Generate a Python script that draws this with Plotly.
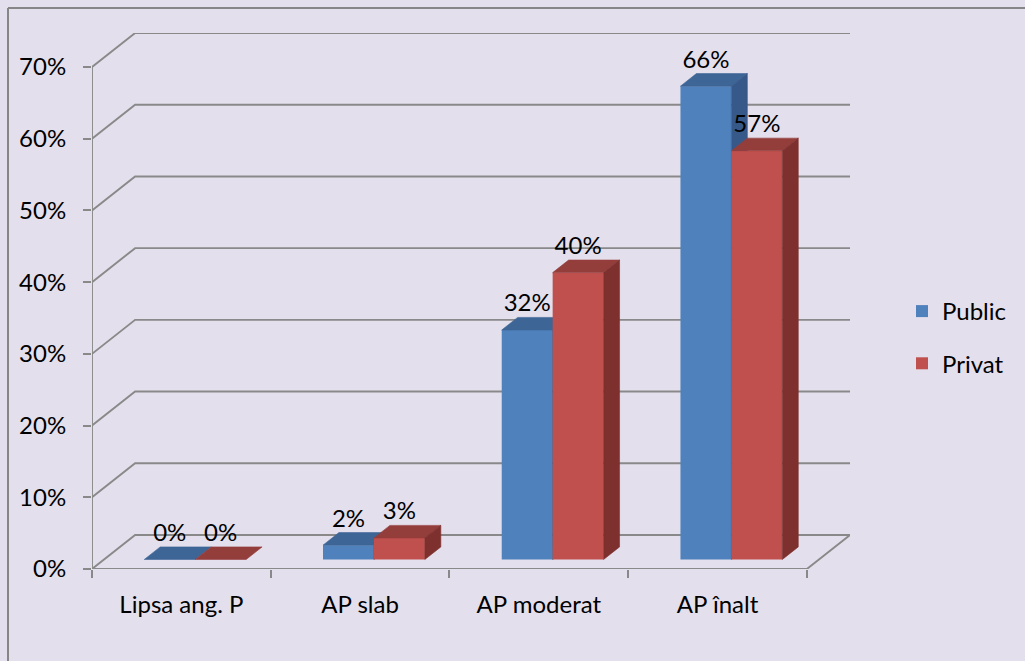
import plotly.graph_objects as go

# ---- data ----
categories = ["Lipsa ang. P", "AP slab", "AP moderat", "AP înalt"]
public = [0, 2, 32, 66]
privat = [0, 3, 40, 57]
series_names = ["Public", "Privat"]
y_ticks = [0, 10, 20, 30, 40, 50, 60, 70]
y_tick_labels = ["0%", "10%", "20%", "30%", "40%", "50%", "60%", "70%"]

# ---- styling ----
FRONT = ["#4F81BD", "#C0504D"]
TOP = ["#3D6596", "#943E3C"]
SIDE = ["#36598A", "#7D302E"]
GRID = "#898989"
BG = "#E4DFEC"
FONT = "Lato"
FS = 24
LW = 1.9

# ---- oblique 3-D frame geometry (axis units) ----
W, H = 1025, 661
M_L, M_R, M_T, M_B = 92, 175, 33, 92
N = len(categories)
DEPTH_X = 0.2412          # wall depth along x, in category units
DEPTH_Y = 4.742           # wall depth along y, in percent units
X_MAX = N + DEPTH_X
Y_MAX = y_ticks[-1] + DEPTH_Y

BAR_OFFSET = 0.225        # left edge of the first bar inside its category slot
BAR_W = 0.285             # bar width (category units)
F0, F1 = 0.28, 0.65       # front / back of the bars as a fraction of the floor depth
B0 = F0 * DEPTH_Y
DDX = (F1 - F0) * DEPTH_X
DDY = (F1 - F0) * DEPTH_Y

fig = go.Figure()

# walls, floor and the vertical axis line (base subplot)
for v in y_ticks:
    if v == 0:
        xs = [0, N, N + DEPTH_X, DEPTH_X, 0]
        ys = [0, 0, DEPTH_Y, DEPTH_Y, 0]
    else:
        xs = [0, DEPTH_X, N + DEPTH_X]
        ys = [v, v + DEPTH_Y, v + DEPTH_Y]
    fig.add_trace(go.Scatter(x=xs, y=ys, mode="lines", line=dict(color=GRID, width=LW),
                             showlegend=False, hoverinfo="skip", xaxis="x", yaxis="y"))
fig.add_trace(go.Scatter(x=[0, 0], y=[0, y_ticks[-1]], mode="lines",
                         line=dict(color=GRID, width=LW), showlegend=False,
                         hoverinfo="skip", xaxis="x", yaxis="y"))

# one overlaid subplot per series so the right-hand bars occlude the left-hand ones
for j, (name, vals) in enumerate(zip(series_names, [public, privat])):
    xa, ya = f"x{j + 2}", f"y{j + 2}"
    lefts = [i + BAR_OFFSET + j * BAR_W + F0 * DEPTH_X for i in range(N)]
    fig.add_trace(go.Bar(
        x=[xl + BAR_W / 2 for xl in lefts], y=vals, base=[B0] * N, width=BAR_W,
        name=name, marker=dict(color=FRONT[j], line=dict(width=0)),
        xaxis=xa, yaxis=ya, legendgroup=name, hoverinfo="skip"))
    for xl, v in zip(lefts, vals):
        xr = xl + BAR_W
        top = B0 + v
        fig.add_trace(go.Scatter(
            x=[xl, xr, xr + DDX, xl + DDX, xl], y=[top, top, top + DDY, top + DDY, top],
            fill="toself", fillcolor=TOP[j], mode="lines", line=dict(color=TOP[j], width=0.6),
            showlegend=False, hoverinfo="skip", xaxis=xa, yaxis=ya))
        if v > 0:
            fig.add_trace(go.Scatter(
                x=[xr, xr, xr + DDX, xr + DDX, xr], y=[B0, top, top + DDY, B0 + DDY, B0],
                fill="toself", fillcolor=SIDE[j], mode="lines", line=dict(color=SIDE[j], width=0.6),
                showlegend=False, hoverinfo="skip", xaxis=xa, yaxis=ya))
    fig.add_trace(go.Scatter(
        x=[xl + BAR_W / 2 for xl in lefts], y=[B0 + v + DDY for v in vals],
        mode="text", text=[f"{v}%" for v in vals], textposition="top center",
        textfont=dict(family=FONT, size=FS, color="black"),
        showlegend=False, hoverinfo="skip", xaxis="x3", yaxis="y3"))

axis_common = dict(range=[0, X_MAX], showgrid=False, zeroline=False, showline=False)
yaxis_common = dict(range=[0, Y_MAX], showgrid=False, zeroline=False, showline=False)

plot_w = W - M_L - M_R
plot_h = H - M_T - M_B

fig.update_layout(
    width=W, height=H,
    margin=dict(l=M_L, r=M_R, t=M_T, b=M_B, pad=0),
    paper_bgcolor=BG, plot_bgcolor="rgba(0,0,0,0)",
    barmode="overlay",
    font=dict(family=FONT, size=FS, color="black"),
    xaxis=dict(**axis_common, tickmode="array", tickvals=[i + 0.5 for i in range(N)],
               ticktext=categories, ticks="", ticklabelstandoff=19,
               tickfont=dict(family=FONT, size=FS, color="black"),
               minor=dict(tickmode="array", tickvals=list(range(N + 1)), ticks="outside",
                          ticklen=8, tickwidth=LW, tickcolor=GRID, showgrid=False)),
    yaxis=dict(**yaxis_common, tickmode="array", tickvals=y_ticks, ticktext=y_tick_labels,
               ticks="outside", ticklen=8, tickwidth=LW, tickcolor=GRID,
               ticklabelstandoff=12, tickfont=dict(family=FONT, size=FS, color="black")),
    xaxis2=dict(**axis_common, overlaying="x", visible=False),
    yaxis2=dict(**yaxis_common, overlaying="y", visible=False),
    xaxis3=dict(**axis_common, overlaying="x", visible=False),
    yaxis3=dict(**yaxis_common, overlaying="y", visible=False),
    legend=dict(xref="container", yref="container", x=902 / W, y=1 - 337.5 / H,
                xanchor="left", yanchor="middle", tracegroupgap=18,
                bgcolor="rgba(0,0,0,0)", font=dict(family=FONT, size=FS, color="black")),
    showlegend=True,
    shapes=[
        dict(type="line", xref="paper", yref="paper",
             x0=(8 - M_L) / plot_w, x1=(W - M_L) / plot_w,
             y0=1 + (M_T - 8) / plot_h, y1=1 + (M_T - 8) / plot_h,
             line=dict(color="#868686", width=2)),
        dict(type="line", xref="paper", yref="paper",
             x0=(8 - M_L) / plot_w, x1=(8 - M_L) / plot_w,
             y0=1 + (M_T - 8) / plot_h, y1=-M_B / plot_h,
             line=dict(color="#868686", width=2)),
    ],
)

fig.write_html("out.html")
